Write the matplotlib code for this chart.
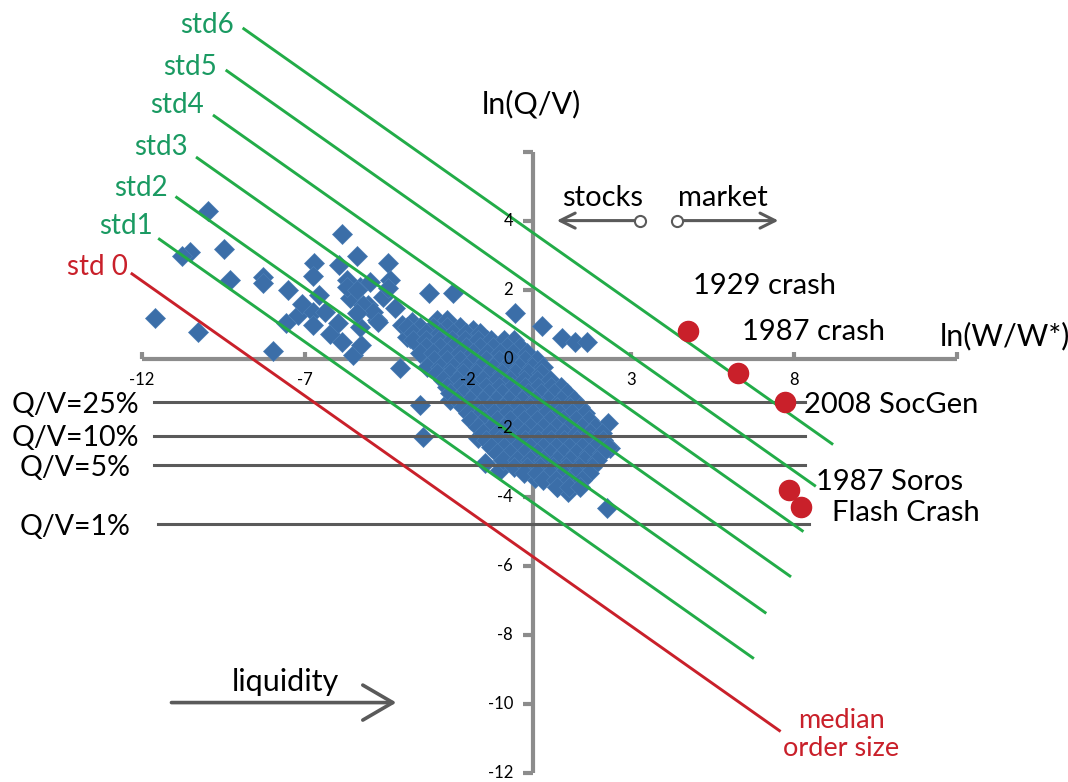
import matplotlib
matplotlib.use("Agg")
import matplotlib.pyplot as plt
import numpy as np

plt.rcParams['font.family'] = ['Lato', 'DejaVu Sans']

# regression line ln(Q/V) = a - 2/3 ln(W/W*), bands every std
slope = -2 / 3
intercept0 = -5.73
std_step = 1.565
band_names = ['std 0', 'std1', 'std2', 'std3', 'std4', 'std5', 'std6']
band_x_start = [-12.31, -11.47, -10.94, -10.31, -9.79, -9.40, -8.88]
band_x_end = [7.55, 6.73, 7.11, 7.87, 8.25, 8.63, 9.16]

# participation rate lines
qv_labels = ['Q/V=25%', 'Q/V=10%', 'Q/V=5%', 'Q/V=1%']
qv_levels = [-1.24, -2.21, -3.06, -4.77]
qv_x_start = [-11.65, -11.65, -11.65, -11.52]
qv_x_end = [8.33, 8.33, 8.33, 8.47]

# famous events
event_names = ['1929 crash', '1987 crash', '2008 SocGen', '1987 Soros', 'Flash Crash']
event_x = [4.74, 6.29, 7.71, 7.83, 8.22]
event_y = [0.83, -0.39, -1.23, -3.79, -4.27]

# portfolio transitions: scattered points
scatter_x = [-9.97, -10.53, -10.79, -9.48, -9.30, -11.60, -10.28, -8.30, -8.28, -7.52,
             -7.99, -7.59, -7.23, -7.10, -6.72, -6.75, -6.57, -6.75, -6.39, -6.77,
             -6.24, -5.98, -5.88, -5.52, -5.29, -5.88, -5.42, -5.95, -5.72, -5.62,
             -5.32, -5.01, -5.06, -4.80, -5.32, -4.60, -4.45, -5.72, -5.42, -5.21,
             -4.91, -5.42, -4.75, -4.40, -4.45, -4.24, -4.04, -3.73, -3.78, -3.48,
             -3.19, -2.45, -0.56, -4.09, -2.96, -2.66, -3.17, -3.48, -3.37, -1.48,
             -1.02, 0.05, 0.72, 1.07, 2.25, 2.30, 2.35, 0.26, 0.87, 1.28,
             1.64, -1.69, -2.56,
             -3.88, -3.58, -3.37, -2.96, -3.17, -2.76, -2.66, -2.35, -2.15, -1.84,
             -1.74, -1.43, -1.33, -0.92, -1.12, -0.71, -0.31]
scatter_y = [4.31, 3.12, 2.99, 3.20, 2.30, 1.19, 0.80, 2.38, 2.20, 2.01,
             0.25, 1.06, 1.28, 1.60, 2.80, 2.41, 1.86, 1.38, 1.38, 0.99,
             0.73, 1.04, 0.51, 0.12, 0.41, 3.62, 2.99, 2.73, 2.30, 1.77,
             2.10, 2.25, 1.57, 1.14, 0.94, 1.81, 2.78, 2.10, 2.01, 1.57,
             1.38, 1.33, 1.09, 2.30, 2.06, 1.48, 0.99, 1.09, 0.61, 0.70,
             1.91, 1.93, 1.35, -0.26, 1.14, 1.14, 0.85, -1.32, -2.24, -3.01,
             -3.21, -3.45, -3.69, -3.84, -4.32, -1.86, -2.58, 0.97, 0.61, 0.51,
             0.51, -2.29, -1.18,
             0.66, 0.85, 0.37, 0.17, -0.02, 0.66, 0.37, 0.85, 0.56, 0.85,
             0.46, 0.56, 0.17, 0.46, -0.12, -0.02, 0.17]

# dense cloud, read row by row
cloud_rows = {
    0.94: [-3.88, -3.48, -3.07, -2.66, -2.25],
    0.75: [-3.68, -3.28, -2.87, -2.46, -2.05, -1.65],
    0.56: [-3.70, -3.30, -2.90, -2.50, -2.10, -1.70, -1.30, -0.90, -0.60],
    0.36: [-3.28, -2.87, -2.46, -2.05, -1.64, -1.23, -0.82, -0.41],
    0.17: [-3.48, -3.07, -2.66, -2.25, -1.84, -1.43, -1.02, -0.61, -0.20],
    -0.02: [-3.05, -2.65, -2.25, -1.85, -1.45, -1.05, -0.65, -0.25, 0.10],
    -0.21: [-3.25, -2.85, -2.45, -2.05, -1.65, -1.25, -0.85, -0.45, -0.05, 0.30],
    -0.40: [-2.95, -2.55, -2.15, -1.75, -1.35, -0.95, -0.55, -0.15, 0.25],
    -0.60: [-2.76, -2.35, -1.94, -1.53, -1.12, -0.71, -0.30, 0.11, 0.52],
    -0.80: [-2.65, -2.25, -1.85, -1.45, -1.05, -0.65, -0.25, 0.15, 0.55, 0.85],
    -0.99: [-2.55, -2.15, -1.75, -1.35, -0.95, -0.55, -0.15, 0.25, 0.65, 1.02],
    -1.18: [-2.35, -1.95, -1.55, -1.15, -0.75, -0.35, 0.05, 0.45, 0.85, 1.25],
    -1.37: [-2.15, -1.74, -1.33, -0.92, -0.51, -0.10, 0.31, 0.72, 1.13, 1.43],
    -1.57: [-2.00, -1.60, -1.20, -0.80, -0.40, 0.00, 0.40, 0.80, 1.20, 1.60],
    -1.76: [-1.90, -1.50, -1.10, -0.70, -0.30, 0.10, 0.50, 0.90, 1.30, 1.70],
    -1.95: [-1.70, -1.30, -0.90, -0.50, -0.10, 0.30, 0.70, 1.10, 1.50, 1.90],
    -2.14: [-1.53, -1.12, -0.71, -0.30, 0.11, 0.52, 0.93, 1.34, 1.75, 2.10],
    -2.33: [-1.45, -1.05, -0.65, -0.25, 0.15, 0.55, 0.95, 1.35, 1.75, 2.15],
    -2.53: [-1.30, -0.90, -0.50, -0.10, 0.30, 0.70, 1.10, 1.50, 1.90, 2.30],
    -2.72: [-1.10, -0.70, -0.30, 0.10, 0.50, 0.90, 1.30, 1.70, 2.10],
    -2.92: [-0.92, -0.51, -0.10, 0.31, 0.72, 1.13, 1.54, 1.95],
    -3.11: [-0.60, -0.20, 0.20, 0.60, 1.00, 1.40, 1.80],
    -3.30: [-0.30, 0.10, 0.50, 0.90, 1.30, 1.70],
    -3.50: [0.30, 0.70, 1.10, 1.50],
    -3.69: [0.72, 1.10, 1.43],
}

x_ticks = [-12, -7, -2, 3, 8, 13]
x_ticklabels = ['-12', '-7', '-2', '3', '8', '']
y_ticks = [-12, -10, -8, -6, -4, -2, 0, 2, 4, 6]
y_ticklabels = ['-12', '-10', '-8', '-6', '-4', '-2', '0', '2', '4', '']

GREEN = '#22ac48'
GREEN_TXT = '#1a9a62'
RED = '#c9202a'
BLUE = '#3b6ea8'
AXGRAY = '#8c8c8c'
DARK = '#5a5a5a'

fig = plt.figure(figsize=(10.68, 7.82), dpi=100)
ax = fig.add_axes([0, 0, 1, 1])
ax.set_xlim(-16.359, 16.402)
ax.set_ylim(-12.252, 10.414)
ax.axis('off')

# axes through the origin
ax.plot([x_ticks[0], x_ticks[-1]], [0, 0], color=AXGRAY, lw=3, zorder=1, solid_capstyle='butt')
ax.plot([0, 0], [y_ticks[0], y_ticks[-1]], color=AXGRAY, lw=3, zorder=1, solid_capstyle='butt')
for xt, lab in zip(x_ticks, x_ticklabels):
    ax.plot([xt, xt], [0, 0.2], color=AXGRAY, lw=3, zorder=1, solid_capstyle='butt')
    if lab:
        ax.text(xt, -0.6, lab, ha='center', va='center', fontsize=12, zorder=7)
for yt, lab in zip(y_ticks, y_ticklabels):
    ax.plot([-0.32, 0], [yt, yt], color=AXGRAY, lw=3, zorder=1, solid_capstyle='butt')
    if lab:
        ax.text(-0.62, yt, lab, ha='right', va='center', fontsize=12, zorder=7)

# scatter of stocks
cx = [x for yv, xs in cloud_rows.items() for x in xs]
cy = [yv for yv, xs in cloud_rows.items() for x in xs]
ax.plot(scatter_x + cx, scatter_y + cy, 'D', color=BLUE, ms=10.5, mec='#4a7db5', mew=0.5, zorder=2)

# Q/V lines
for lab, lev, x0, x1 in zip(qv_labels, qv_levels, qv_x_start, qv_x_end):
    ax.plot([x0, x1], [lev, lev], color=DARK, lw=2.2, zorder=3)
    ax.text(-14.05, lev - 0.08, lab, ha='center', va='center', fontsize=20.5, zorder=7)

# std bands
label_pos = [(-12.45, 2.68), (-11.66, 3.86), (-11.21, 4.96), (-10.60, 6.16),
             (-10.10, 7.37), (-9.70, 8.48), (-9.17, 9.69)]
for k, (name, xs, xe) in enumerate(zip(band_names, band_x_start, band_x_end)):
    xx = np.array([xs, xe])
    yy = intercept0 + k * std_step + slope * xx
    col = RED if k == 0 else GREEN
    ax.plot(xx, yy, color=col, lw=2.1, zorder=4)
    ax.text(label_pos[k][0], label_pos[k][1], name, ha='right', va='center',
            fontsize=20, color=RED if k == 0 else GREEN_TXT, zorder=7)

# events
ax.plot(event_x, event_y, 'o', color=RED, ms=14.5, zorder=5)
event_text = [(4.90, 2.12), (6.40, 0.80), (8.30, -1.32), (8.68, -3.55), (9.16, -4.46)]
for name, (tx, ty) in zip(event_names, event_text):
    ax.text(tx, ty, name, ha='left', va='center', fontsize=21, zorder=7)

# axis titles
ax.text(-0.06, 7.40, 'ln(Q/V)', ha='center', va='center', fontsize=22)
ax.text(12.46, 0.66, 'ln(W/W*)', ha='left', va='center', fontsize=22)

# stocks / market arrows
arrow_kw = dict(arrowstyle='->,head_length=0.6,head_width=0.3', lw=2.2, color=DARK,
                shrinkA=0, shrinkB=0, mutation_scale=18)
ax.annotate('', xy=(0.72, 4.02), xytext=(3.27, 4.02), arrowprops=arrow_kw, zorder=6)
ax.annotate('', xy=(7.52, 4.02), xytext=(4.42, 4.02), arrowprops=arrow_kw, zorder=6)
ax.plot([3.27, 4.42], [4.02, 4.02], 'o', mfc='white', mec=DARK, ms=8, mew=1.5, zorder=7)
ax.text(2.11, 4.67, 'stocks', ha='center', va='center', fontsize=21)
ax.text(5.80, 4.67, 'market', ha='center', va='center', fontsize=21)

# liquidity arrow
ax.annotate('', xy=(-4.2, -9.95), xytext=(-11.1, -9.95),
            arrowprops=dict(arrowstyle='->,head_length=0.6,head_width=0.35', lw=2.6,
                            color=DARK, shrinkA=0, shrinkB=0, mutation_scale=36))
ax.text(-7.61, -9.34, 'liquidity', ha='center', va='center', fontsize=22)

ax.text(9.45, -10.88, 'median\norder size', ha='center', va='center', fontsize=19.5,
        color=RED, linespacing=1.15)

fig.savefig('out.png', dpi=100)
